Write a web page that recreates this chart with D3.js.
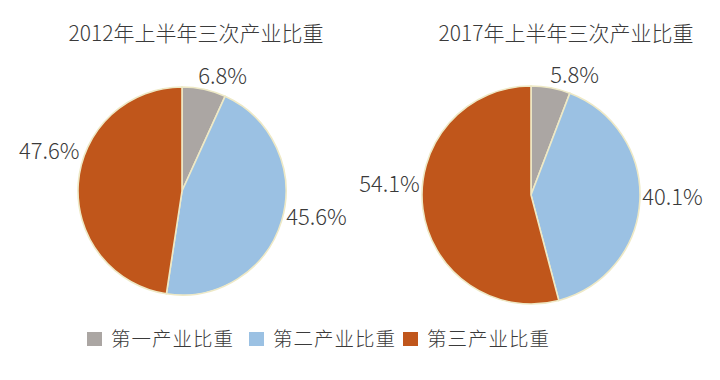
<!DOCTYPE html>
<html>
<head>
<meta charset="utf-8">
<script src="https://cdn.jsdelivr.net/npm/d3@7"></script>
<style>
  body { margin: 0; background: #fff; }
  svg text { font-family: "Noto Sans CJK SC", "Noto Sans", sans-serif; fill: #3a3a3a; }
</style>
</head>
<body>
<svg id="chart"></svg>
<script>
const categories = ["第一产业比重", "第二产业比重", "第三产业比重"];
const titles = ["2012年上半年三次产业比重", "2017年上半年三次产业比重"];
const values2012 = [6.8, 45.6, 47.6];
const values2017 = [5.8, 40.1, 54.1];

const width = 720;
const height = 380;

const svg = d3.select("#chart").attr("width", width).attr("height", height);

const color = d3
  .scaleOrdinal()
  .domain(categories)
  .range(["#aba6a3", "#9bc1e3", "#c0561b"]);

// layout of each pie (centre, radius, title position, label nudges)
const pies = [
  {
    values: values2012, title: titles[0], cx: 182, cy: 191, r: 104, titleX: 196,
    nudge: [[12, 17], [5, -12], [2, -30]],
  },
  {
    values: values2017, title: titles[1], cx: 531, cy: 195, r: 109, titleX: 566,
    nudge: [[18, 20], [0, -5], [-1, -29]],
  },
];

const pie = d3.pie().sort(null).value((d) => d.value);

pies.forEach(function (p) {
  const data = p.values.map((v, i) => ({ key: categories[i], value: v }));
  const arcs = pie(data);

  const arc = d3.arc().innerRadius(0).outerRadius(p.r);
  const labelArc = d3.arc().innerRadius(p.r * 1.3).outerRadius(p.r * 1.3);

  const g = svg.append("g").attr("transform", `translate(${p.cx},${p.cy})`);

  g.selectAll("path")
    .data(arcs)
    .enter()
    .append("path")
    .attr("d", arc)
    .attr("fill", (d) => color(d.data.key))
    .attr("stroke", "#eee9c6")
    .attr("stroke-width", 1.6);

  g.selectAll(".label")
    .data(arcs)
    .enter()
    .append("text")
    .attr("class", "label")
    .attr("x", (d, i) => labelArc.centroid(d)[0] + p.nudge[i][0])
    .attr("y", (d, i) => labelArc.centroid(d)[1] + p.nudge[i][1])
    .attr("dy", "0.35em")
    .attr("text-anchor", "middle")
    .style("font-size", "22px")
    .style("font-weight", 300)
    .text((d) => d.data.value.toFixed(1) + "%");

  svg
    .append("text")
    .attr("x", p.titleX)
    .attr("y", 41)
    .attr("text-anchor", "middle")
    .style("font-size", "21px")
    .style("font-weight", 300)
    .text(p.title);
});

// legend
const legendX = [87, 249, 403];
const legend = svg
  .selectAll(".legend-item")
  .data(categories)
  .enter()
  .append("g")
  .attr("class", "legend-item")
  .attr("transform", (d, i) => `translate(${legendX[i]},332)`);

legend
  .append("rect")
  .attr("width", 15)
  .attr("height", 14)
  .attr("fill", color);

legend
  .append("text")
  .attr("x", 24)
  .attr("y", 7)
  .attr("dy", "0.36em")
  .style("font-size", "19.5px")
  .style("font-weight", 300)
  .style("letter-spacing", "1px")
  .text((d) => d);
</script>
</body>
</html>
